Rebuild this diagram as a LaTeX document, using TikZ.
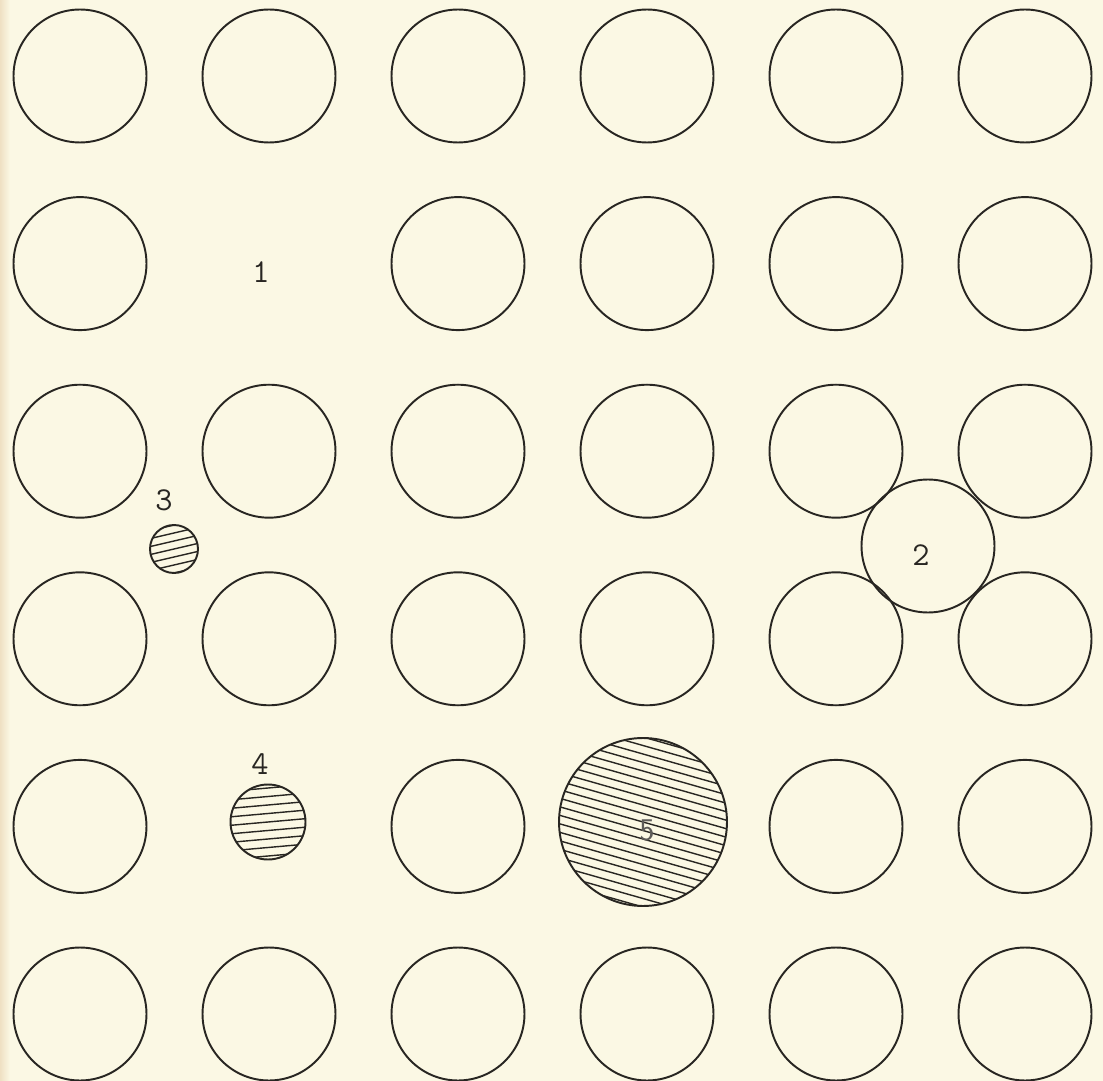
\documentclass[tikz,border=0pt]{standalone}
\definecolor{paper}{RGB}{251,248,228}
\definecolor{ink}{RGB}{40,38,34}
\begin{document}
\begin{tikzpicture}[
        x=0.02cm, y=-0.02cm,
        every node/.style={text=ink},
        hole/.style={circle, draw=ink, line width=1.1pt, minimum size=2.66cm, inner sep=0pt},
        num/.style={font=\ttfamily\fontsize{19}{22}\selectfont},
        hatch/.style={draw=ink, line width=0.8pt}
    ]
    \useasboundingbox (0,0) rectangle (1103,1081);
    \fill[paper] (0,0) rectangle (1103,1081);
    \shade[left color=paper!80!brown, right color=paper] (0,0) rectangle (10,1081);
    % regular array
    \foreach \r/\cols in {1/{1,2,3,4,5,6}, 2/{1,3,4,5,6}, 3/{1,2,3,4,5,6},
                         4/{1,2,3,4,5,6}, 5/{1,3,5,6}, 6/{1,2,3,4,5,6}} {
        \foreach \c in \cols {
            \node[hole] (h\r\c) at ({80+189*(\c-1)}, {76+187.6*(\r-1)}) {};
        }
    }
    % vacancy
    \node[num] (gap1) at (261,272) {1};
    % interstitial
    \node[hole] (big2) at (928,546) {};
    \node[num] (lab2) at (921,555) {2};
    % small substitutional atoms
    \begin{scope}[shift={(174,549)}]
        \clip (0,0) circle[radius=24];
        \foreach \k in {-3,...,3} \draw[hatch] (-30,\k*8+7) -- (30,\k*8-7);
    \end{scope}
    \node[hole, minimum size=0.96cm] (dot3) at (174,549) {};
    \node[num] (lab3) at (164,500) {3};
    \begin{scope}[shift={(268,822)}]
        \clip (0,0) circle[radius=37.5];
        \foreach \k in {-4,...,4} \draw[hatch] (-45,\k*8.5+4) -- (45,\k*8.5-4);
    \end{scope}
    \node[hole, minimum size=1.5cm] (dot4) at (268,822) {};
    \node[num] (lab4) at (260,764) {4};
    % large substitutional atom
    \begin{scope}[shift={(643,822)}]
        \clip (0,0) circle[radius=84];
        \foreach \k in {-10,...,10} \draw[hatch] (-95,\k*8.5-27) -- (95,\k*8.5+27);
    \end{scope}
    \node[hole, minimum size=3.36cm] (big5) at (643,822) {};
    \node[font=\sffamily\fontsize{18}{20}\selectfont, text=ink!75] (lab5) at (647,830) {5};
\end{tikzpicture}
\end{document}
